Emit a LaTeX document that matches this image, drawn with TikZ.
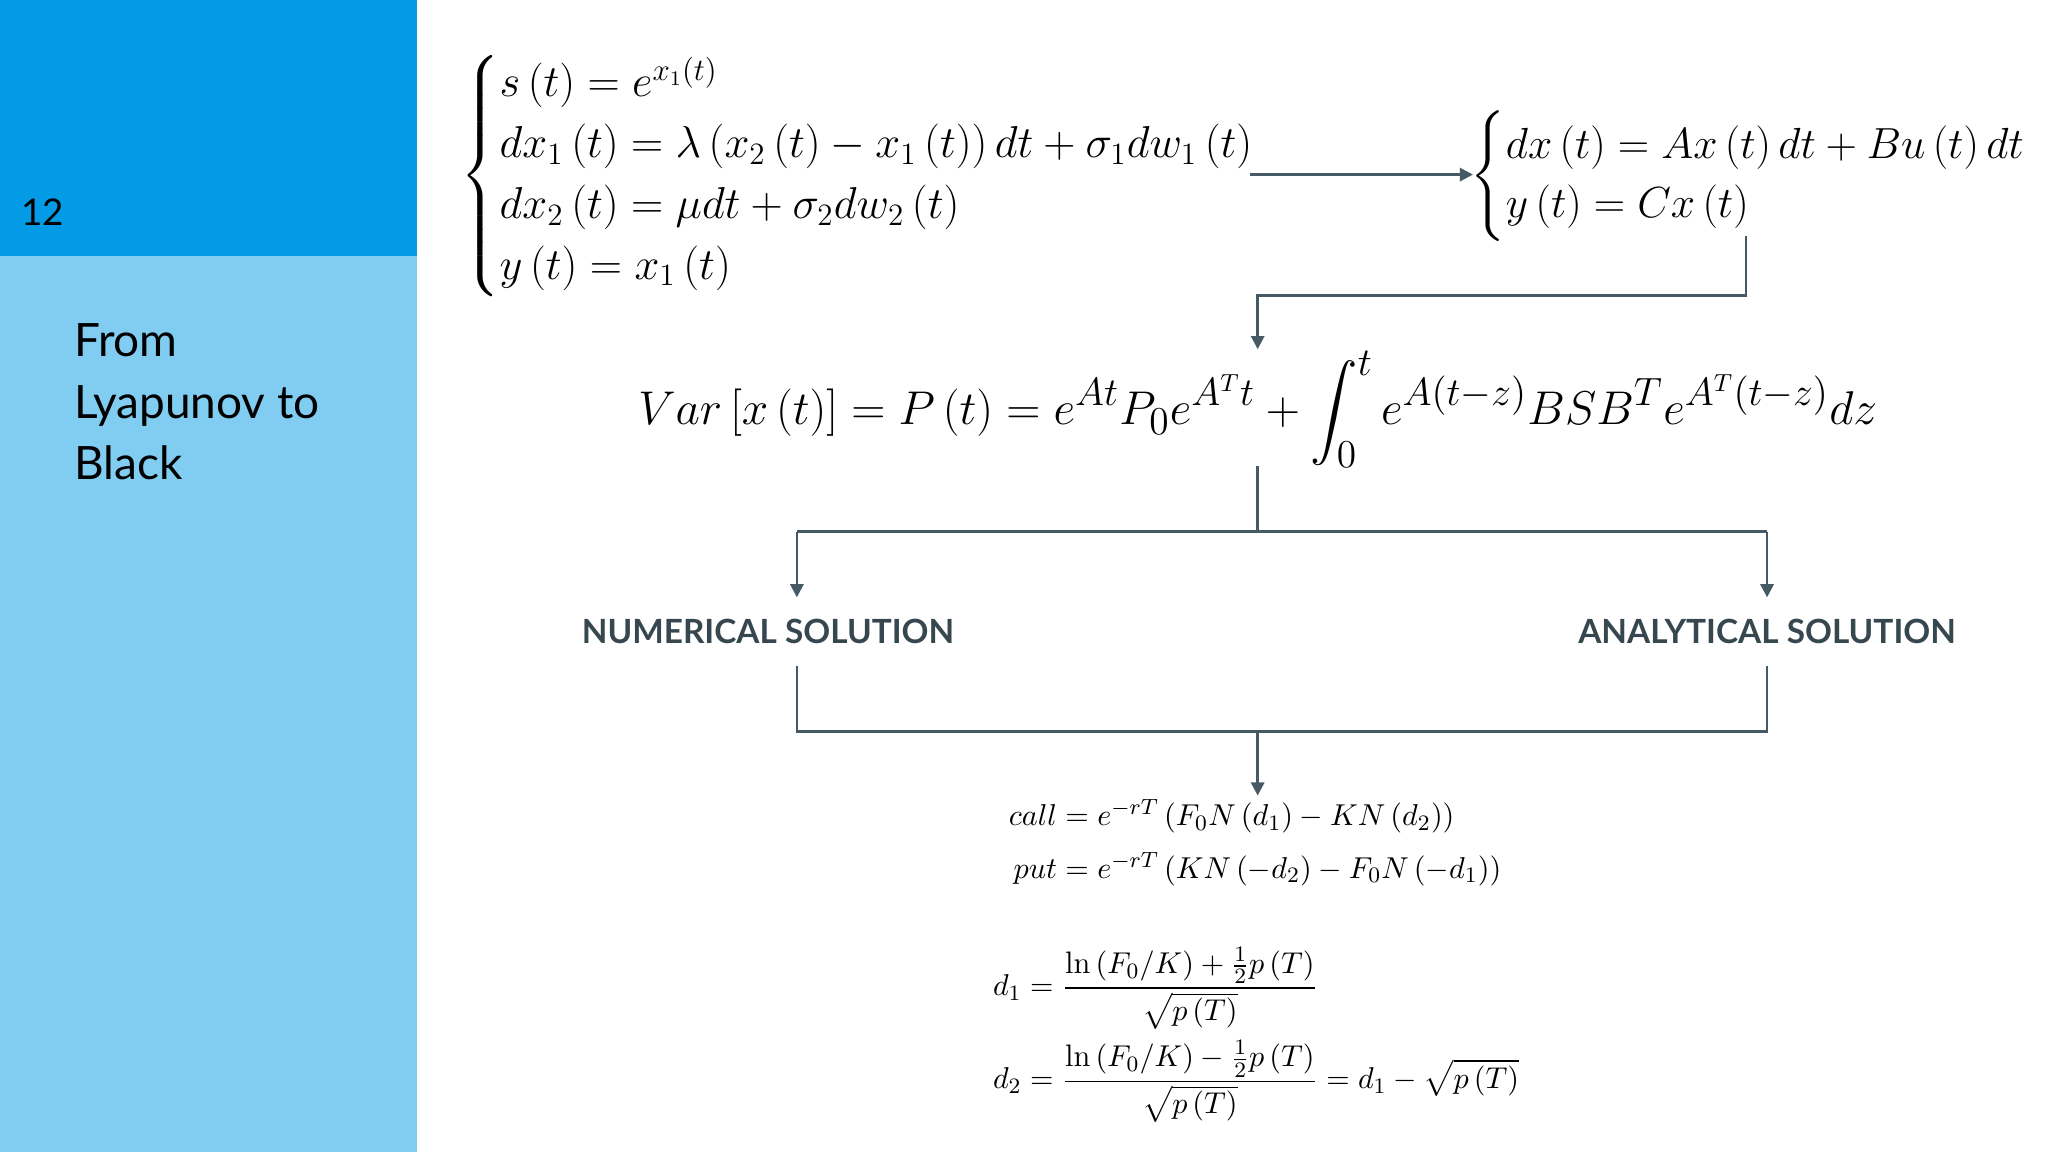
\documentclass[tikz,border=0pt]{standalone}
\usepackage{amsmath}
\usepackage{fontspec}
\newfontfamily\lato{Lato}
\usetikzlibrary{arrows.meta}
\definecolor{darkblue}{RGB}{3,155,229}
\definecolor{lightblue}{RGB}{129,205,242}
\definecolor{slate}{RGB}{69,90,100}
\definecolor{labelc}{RGB}{55,71,79}
\tikzset{
  conn/.style={draw=slate,line width=1pt},
  arr/.style={conn,-{Triangle[length=5pt,width=5pt]}},
  lab/.style={font=\lato\bfseries\fontsize{12.7}{15}\selectfont,text=labelc},
  eq/.style={inner sep=0pt}
}
\begin{document}
\begin{tikzpicture}[x=0.5pt,y=-0.5pt]
\useasboundingbox (0,0) rectangle (1560,877.5);
\fill[white] (0,0) rectangle (1560,877.5);
\fill[darkblue] (0,0) rectangle (318,195);
\fill[lightblue] (0,195) rectangle (318,877.5);
\node[anchor=west,inner sep=0pt,font=\lato\fontsize{14}{16}\selectfont] (num) at (16,162) {12};
\node[anchor=north west,align=left,inner sep=0pt,font=\lato\fontsize{17.5}{23.5}\selectfont] (title) at (56,246) {From\\Lyapunov to\\Black};

\node[eq,anchor=west,scale=0.985] (sys1) at (350,134) {\fontsize{16.5}{23.5}\selectfont$\left\{\begin{array}{@{}l@{}}
s\left(t\right)=e^{x_1\left(t\right)}\\
dx_1\left(t\right)=\lambda\left(x_2\left(t\right)-x_1\left(t\right)\right)dt+\sigma_1 dw_1\left(t\right)\\
dx_2\left(t\right)=\mu dt+\sigma_2 dw_2\left(t\right)\\
y\left(t\right)=x_1\left(t\right)
\end{array}\right.$};

\node[eq,anchor=west,scale=0.96] (sys2) at (1120,134) {\fontsize{16.5}{23.5}\selectfont$\left\{\begin{array}{@{}l@{}}
dx\left(t\right)=Ax\left(t\right)dt+Bu\left(t\right)dt\\
y\left(t\right)=Cx\left(t\right)
\end{array}\right.$};

\node[eq,scale=1.044] (var) at (958,312) {\fontsize{19}{23}\selectfont$\displaystyle Var\left[x\left(t\right)\right]=P\left(t\right)=e^{At}P_0e^{A^Tt}+\int_0^t e^{A\left(t-z\right)}BSB^Te^{A^T\left(t-z\right)}dz$};

\node[lab] (numsol) at (585,481) {NUMERICAL SOLUTION};
\node[lab] (anasol) at (1346,481) {ANALYTICAL SOLUTION};

\node[eq,anchor=west,scale=1.05] (bs) at (768,641) {\fontsize{11.4}{19}\selectfont$\begin{array}{@{}r@{}l@{}}
call&{}=e^{-rT}\left(F_0N\left(d_1\right)-KN\left(d_2\right)\right)\\
put&{}=e^{-rT}\left(KN\left(-d_2\right)-F_0N\left(-d_1\right)\right)
\end{array}$};

\node[eq,anchor=west,scale=1.047] (d1) at (756,753) {\fontsize{11.3}{14}\selectfont$\displaystyle d_1=\frac{\ln\left(F_0/K\right)+\frac{1}{2}p\left(T\right)}{\sqrt{p\left(T\right)}}$};
\node[eq,anchor=west,scale=1.047] (d2) at (756,824) {\fontsize{11.3}{14}\selectfont$\displaystyle d_2=\frac{\ln\left(F_0/K\right)-\frac{1}{2}p\left(T\right)}{\sqrt{p\left(T\right)}}=d_1-\sqrt{p\left(T\right)}$};

\coordinate (a1) at (952,133);
\coordinate (a2) at (1122,133);
\draw[arr] (a1) -- (a2);

\coordinate (b1) at (1330,180);
\coordinate (b2) at (958,266);
\draw[arr] (b1) -- (1330,225) -- (958,225) -- (b2);

\coordinate (c1) at (958,355);
\coordinate (cn) at (607,455);
\coordinate (ca) at (1346,455);
\draw[conn] (c1) -- (958,405);
\draw[arr] (607,405) -- (cn);
\draw[arr] (1346,405) -- (ca);
\draw[conn] (607,405) -- (1346,405);

\coordinate (e1) at (607,507);
\coordinate (e2) at (1346,507);
\coordinate (e3) at (958,606);
\draw[conn] (e1) -- (607,557) -- (1346,557) -- (e2);
\draw[arr] (958,557) -- (e3);
\end{tikzpicture}
\end{document}
